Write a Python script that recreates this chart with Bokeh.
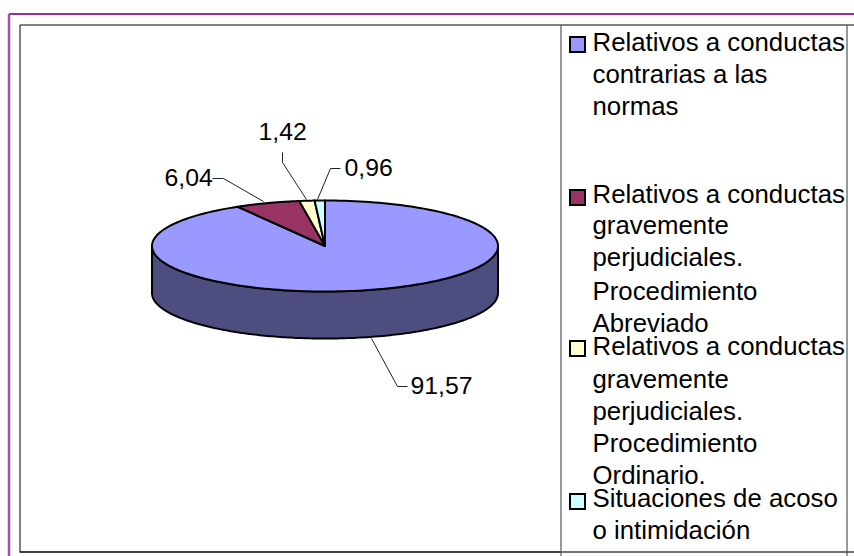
from bokeh.plotting import figure
from bokeh.embed import file_html
from bokeh.resources import INLINE
from bokeh.models import Range1d
from bokeh.core.properties import value
import numpy as np

labels = ["91,57", "6,04", "1,42", "0,96"]
values = [91.57, 6.04, 1.42, 0.96]
top_colors = ["#9999FF", "#993366", "#FFFFCC", "#CCFFFF"]
side_colors = ["#4D4D80", "#4D1A33", "#808066", "#668080"]
legend_lines = [
    ["Relativos a conductas", "contrarias a las", "normas"],
    ["Relativos a conductas", "gravemente", "perjudiciales.", "Procedimiento", "Abreviado"],
    ["Relativos a conductas", "gravemente", "perjudiciales.", "Procedimiento", "Ordinario."],
    ["Situaciones de acoso", "o intimidación"],
]

OX, OY = 0, 0
def X(v): return np.asarray(v, dtype=float) - OX
def Y(v): return np.asarray(v, dtype=float) - OY

W, H = 854, 556
p = figure(width=W, height=H, output_backend="svg", toolbar_location=None,
           x_range=Range1d(0, W), y_range=Range1d(H, 0), min_border=0,
           outline_line_color=None, background_fill_color="white", border_fill_color="white")
p.xaxis.visible = False
p.yaxis.visible = False
p.xgrid.visible = False
p.ygrid.visible = False

# frames
p.line(X([8.5, 8.5]), Y([13.5, 556]), line_color="#A64DA6", line_width=2.5)
p.line(X([8.5, 854]), Y([13.5, 13.5]), line_color="#993399", line_width=2)
p.line(X([19.5, 19.5, 854]), Y([552, 24.5, 24.5]), line_color="black", line_width=1)
p.line(X([19.5, 561]), Y([551.5, 551.5]), line_color="black", line_width=1.5)
p.line(X([561, 854]), Y([551.5, 551.5]), line_color="#444444", line_width=1.5)
p.line(X([560.5, 560.5]), Y([24.5, 556]), line_color="#555555", line_width=1.2)
p.line(X([846.5, 846.5]), Y([24.5, 556]), line_color="#555555", line_width=1.2)

# pie
cx, cy, rx, ry, depth = 324.5, 245.5, 173, 45.5, 47
fr = np.cumsum([0] + values) / sum(values)
def rim(a, b, n=120):
    t = np.linspace(a, b, max(n, 2)) * 2 * np.pi
    return cx + rx * np.sin(t), cy - ry * np.cos(t)

xs, ys = rim(0.25, 0.75, 200)
p.patch(X(np.r_[xs, xs[::-1]]), Y(np.r_[ys, ys[::-1] + depth]),
        fill_color=side_colors[0], line_color="black", line_width=2)

for i in range(len(values)):
    xs, ys = rim(fr[i], fr[i + 1], 200)
    p.patch(X(np.r_[cx, xs]), Y(np.r_[cy, ys]),
            fill_color=top_colors[i], line_color="black", line_width=2, line_join="round")

leaders = [
    ([371, 397, 407], [338, 386, 386]),
    ([263, 223, 212], [201, 178, 178]),
    ([306, 282, 282], [199, 162, 152]),
    ([317, 330, 340], [199, 168, 168]),
]
for lx, ly in leaders:
    p.line(X(lx), Y(ly), line_color="#222222", line_width=1)

lab_x = [410, 164, 258, 344]
lab_y = [393, 185, 139, 175]
LAB_SHIFT = 8.5
p.text(X(lab_x), Y(np.array(lab_y) - LAB_SHIFT), text=labels, text_font=value("Liberation Sans"),
       text_font_size="24.8px", text_color="black", text_baseline="alphabetic", text_align="left")

sq_y = [36, 189, 340, 493]
sq = 15
for i, y0 in enumerate(sq_y):
    p.quad(left=X([569.5]), right=X([569.5 + sq]), top=Y([y0 + .5]), bottom=Y([y0 + .5 + sq]),
           fill_color=top_colors[i], line_color="black", line_width=2, line_join="miter")

base_y = [[50, 82, 114], [202, 233, 265, 299, 331], [354, 387, 419, 451, 483], [506, 538]]
TXT_SHIFT = 9
tx, ty, tt = [], [], []
for lines, ys in zip(legend_lines, base_y):
    for t, y in zip(lines, ys):
        tx.append(592); ty.append(y - TXT_SHIFT); tt.append(t)
p.text(X(tx), Y(ty), text=tt, text_font=value("Liberation Sans"),
       text_font_size="25.8px", text_color="black", text_baseline="alphabetic", text_align="left")

open("out.html", "w").write(file_html(p, INLINE))
